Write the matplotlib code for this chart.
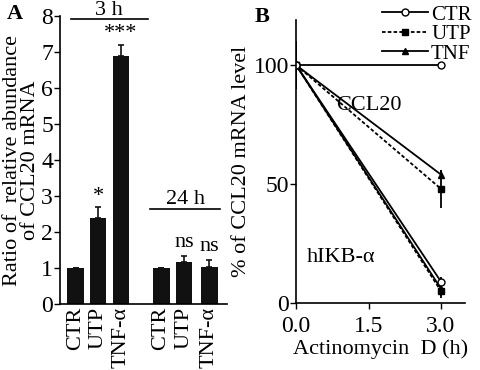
import numpy as np
import matplotlib
matplotlib.use("Agg")
import matplotlib.pyplot as plt
from matplotlib.lines import Line2D

plt.rcParams['font.family'] = ['Liberation Serif', 'DejaVu Serif']

# Panel A data
bar_labels = ["CTR", "UTP", "TNF-α", "CTR", "UTP", "TNF-α"]
bar_values = [1.0, 2.4, 6.9, 1.0, 1.18, 1.03]
bar_errors = [0.0, 0.3, 0.3, 0.0, 0.15, 0.2]
bar_marks = ["", "*", "***", "", "ns", "ns"]

# Panel B data
times = [0.0, 3.0]
ccl20_ctr = [100, 100]
ccl20_utp = [100, 48]
ccl20_utp_err = [10, 8]
ccl20_tnf = [100, 54]
ccl20_tnf_err = [10, 2]
ikb_ctr = [100, 9]
ikb_ctr_err = [10, 2]
ikb_utp = [100, 5]
ikb_utp_err = [10, 3]
ikb_tnf = [100, 6]
ikb_tnf_err = [10, 3]

FS = 16

fig = plt.figure(figsize=(4.8, 3.7), dpi=100)

# ---- Panel A ----
ax = fig.add_axes([0.125, 0.178, 0.348, 0.779])
xpos = np.array([0, 1, 2.02, 3.8, 4.82, 5.95])
ax.bar(xpos, bar_values, width=0.75, color='#111111')
ax.errorbar(xpos, bar_values, yerr=[np.zeros(6), bar_errors], fmt='none',
            ecolor='#111111', elinewidth=1.2, capsize=2.5, capthick=1.2)
for x, v, e, m in zip(xpos, bar_values, bar_errors, bar_marks):
    if m.startswith("*"):
        ax.text(x, v + e + 0.3, m, ha='center', va='center', fontsize=FS)
    elif m:
        ax.text(x, v + e + 0.12, m, ha='center', va='bottom', fontsize=FS)
ax.set_xlim(-0.69, 6.73)
ax.set_ylim(0, 8)
ax.set_yticks(range(9))
ax.set_xticks(xpos)
ax.set_xticklabels(bar_labels, rotation=90, fontsize=FS)
ax.tick_params(axis='x', length=0, pad=2)
ax.tick_params(axis='y', labelsize=FS + 1, length=4, width=1, pad=1)
for s in ['top', 'right']:
    ax.spines[s].set_visible(False)
for s in ['left', 'bottom']:
    ax.spines[s].set_linewidth(1.2)
ax.set_ylabel("Ratio of  relative abundance\nof CCL20 mRNA", fontsize=FS,
              labelpad=1, linespacing=0.9)
ax.plot([-0.2, 3.2], [7.92, 7.92], color='black', lw=1.2, clip_on=False)
ax.text(1.5, 8.02, "3 h", ha='center', va='baseline', fontsize=FS)
ax.plot([3.3, 6.4], [2.65, 2.65], color='black', lw=1.2, clip_on=False)
ax.text(4.87, 2.78, "24 h", ha='center', va='baseline', fontsize=FS)
fig.text(0.015, 0.962, "A", fontsize=FS, fontweight='bold', va='center')

# ---- Panel B ----
bx = fig.add_axes([0.617, 0.181, 0.352, 0.765])
kw = dict(color='black', lw=1.3, capsize=0, elinewidth=1.3)
bx.errorbar(times, ccl20_ctr, yerr=[10, 0], marker='o', ms=5, mfc='white',
            mec='black', **kw)
bx.errorbar(times, ccl20_utp, yerr=ccl20_utp_err, marker='s', ms=4,
            ls=(0, (2, 1.2)), **kw)
bx.errorbar(times, ccl20_tnf, yerr=ccl20_tnf_err, marker='^', ms=4, **kw)
bx.errorbar(times, ikb_utp, yerr=ikb_utp_err, marker='s', ms=4,
            ls=(0, (2, 1.2)), **kw)
bx.errorbar(times, ikb_tnf, yerr=ikb_tnf_err, marker='^', ms=4, **kw)
bx.errorbar(times, ikb_ctr, yerr=ikb_ctr_err, marker='o', ms=5, mfc='white',
            mec='black', **kw)
bx.set_xlim(0, 3.5)
bx.set_ylim(0, 119)
bx.set_xticks([0.0, 1.5, 3.0])
bx.set_xticklabels(["0.0", "1.5", "3.0"])
bx.set_yticks([0, 50, 100])
bx.tick_params(labelsize=FS + 1, length=4, width=1, pad=1)
bx.tick_params(axis='x', pad=5)
for s in ['top', 'right']:
    bx.spines[s].set_visible(False)
for s in ['left', 'bottom']:
    bx.spines[s].set_linewidth(1.2)
bx.set_xlabel("Actinomycin  D (h)", fontsize=FS, labelpad=2)
bx.set_ylabel("% of CCL20 mRNA level", fontsize=FS, labelpad=2)
bx.text(1.5, 83, "CCL20", ha='center', va='center', fontsize=FS)
bx.text(0.92, 19, "hIKB-α", ha='center', va='center', fontsize=FS)
handles = [
    Line2D([], [], color='black', lw=1.3, marker='o', ms=5, mfc='white'),
    Line2D([], [], color='black', lw=1.3, marker='s', ms=4, ls=(0, (2, 1.2))),
    Line2D([], [], color='black', lw=1.3, marker='^', ms=4),
]
bx.legend(handles, ["CTR", "UTP", "TNF"], loc='upper right',
          bbox_to_anchor=(1.1, 1.09), frameon=False, fontsize=FS - 1,
          handlelength=2.2, handletextpad=0.15, labelspacing=0.0, borderpad=0)
fig.text(0.53, 0.955, "B", fontsize=FS, fontweight='bold', va='center')

fig.savefig("out.png", dpi=100)
